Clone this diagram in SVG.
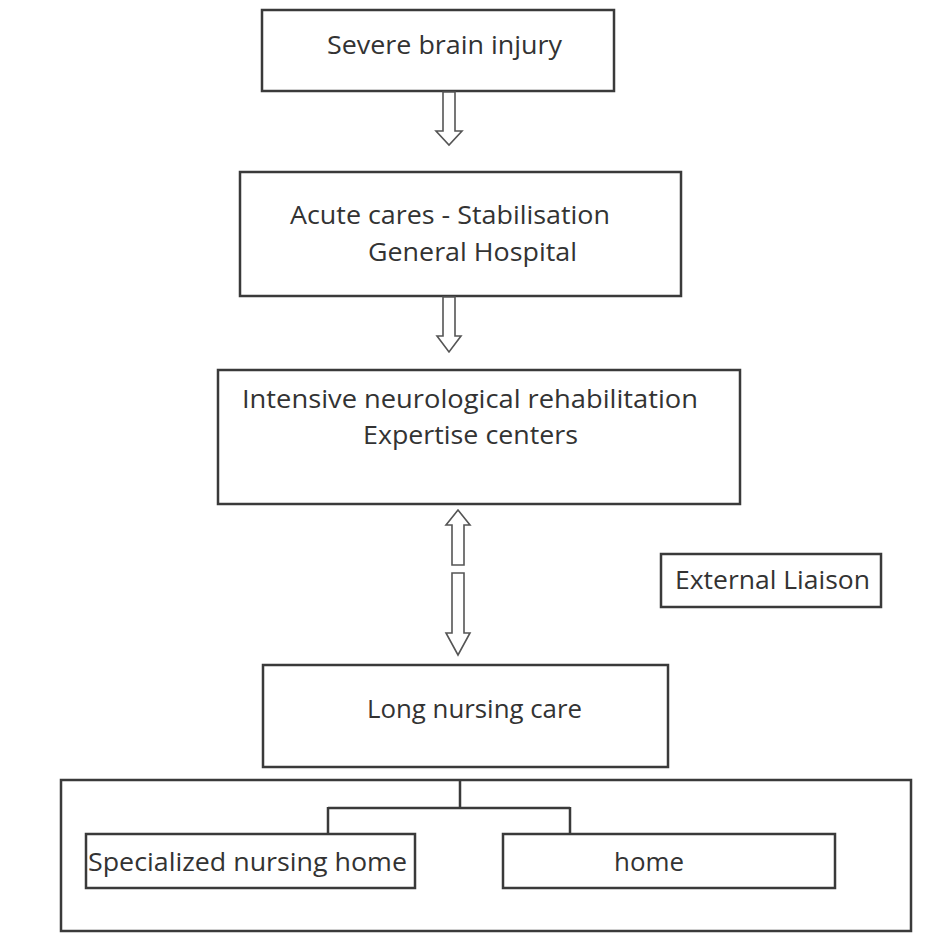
<svg xmlns="http://www.w3.org/2000/svg" width="925" height="933" viewBox="0 0 925 933">
<style>
.box{fill:#fff;stroke:#3a3a3a;stroke-width:2.5}
.arr{fill:#fff;stroke:#555;stroke-width:1.6;stroke-linejoin:miter}
.ln{fill:none;stroke:#3a3a3a;stroke-width:2.5}
text{font-family:"Open Sans","Noto Sans","Liberation Sans",sans-serif;font-size:26px;fill:#333}
</style>
<rect width="925" height="933" fill="#fff"/>
<g id="severe">
<rect class="box" x="262" y="10" width="352" height="81"/>
<text x="327" y="54" textLength="235" lengthAdjust="spacingAndGlyphs">Severe brain injury</text>
</g>
<g id="acute">
<rect class="box" x="240" y="172" width="441" height="124"/>
<text x="290" y="224" textLength="320" lengthAdjust="spacingAndGlyphs">Acute cares - Stabilisation</text>
<text x="368" y="261" textLength="209" lengthAdjust="spacingAndGlyphs">General Hospital</text>
</g>
<g id="intensive">
<rect class="box" x="218" y="370" width="522" height="134"/>
<text x="242" y="408" textLength="456" lengthAdjust="spacingAndGlyphs">Intensive neurological rehabilitation</text>
<text x="363" y="444" textLength="215" lengthAdjust="spacingAndGlyphs">Expertise centers</text>
</g>
<g id="liaison">
<rect class="box" x="661" y="554" width="220" height="53"/>
<text x="675" y="589" textLength="195" lengthAdjust="spacingAndGlyphs">External Liaison</text>
</g>
<g id="longcare">
<rect class="box" x="263" y="665" width="405" height="102"/>
<text x="367" y="718" textLength="215" lengthAdjust="spacingAndGlyphs">Long nursing care</text>
</g>
<g id="outer">
<rect class="box" x="61" y="780" width="850" height="151"/>
</g>
<g id="nursinghome">
<rect class="box" x="86" y="834" width="329" height="54"/>
<text x="88" y="871" textLength="319" lengthAdjust="spacingAndGlyphs">Specialized nursing home</text>
</g>
<g id="home">
<rect class="box" x="503" y="834" width="332" height="54"/>
<text x="614" y="871" textLength="70" lengthAdjust="spacingAndGlyphs">home</text>
</g>
<g id="connectors">
<path class="arr" d="M443,92 L455,92 L455,131 L462,131 L449,145 L436,131 L443,131 Z"/>
<path class="arr" d="M443,297 L455,297 L455,336 L461,336 L449,352 L437,336 L443,336 Z"/>
<path class="arr" d="M458,510 L470,525 L464,525 L464,565 L452,565 L452,525 L446,525 Z"/>
<path class="arr" d="M452,573 L464,573 L464,633 L470,633 L458,655 L446,633 L452,633 Z"/>
<path class="ln" d="M460,781 L460,808 M328,808 L570,808 M328,807 L328,833 M570,807 L570,833"/>
</g>
</svg>
